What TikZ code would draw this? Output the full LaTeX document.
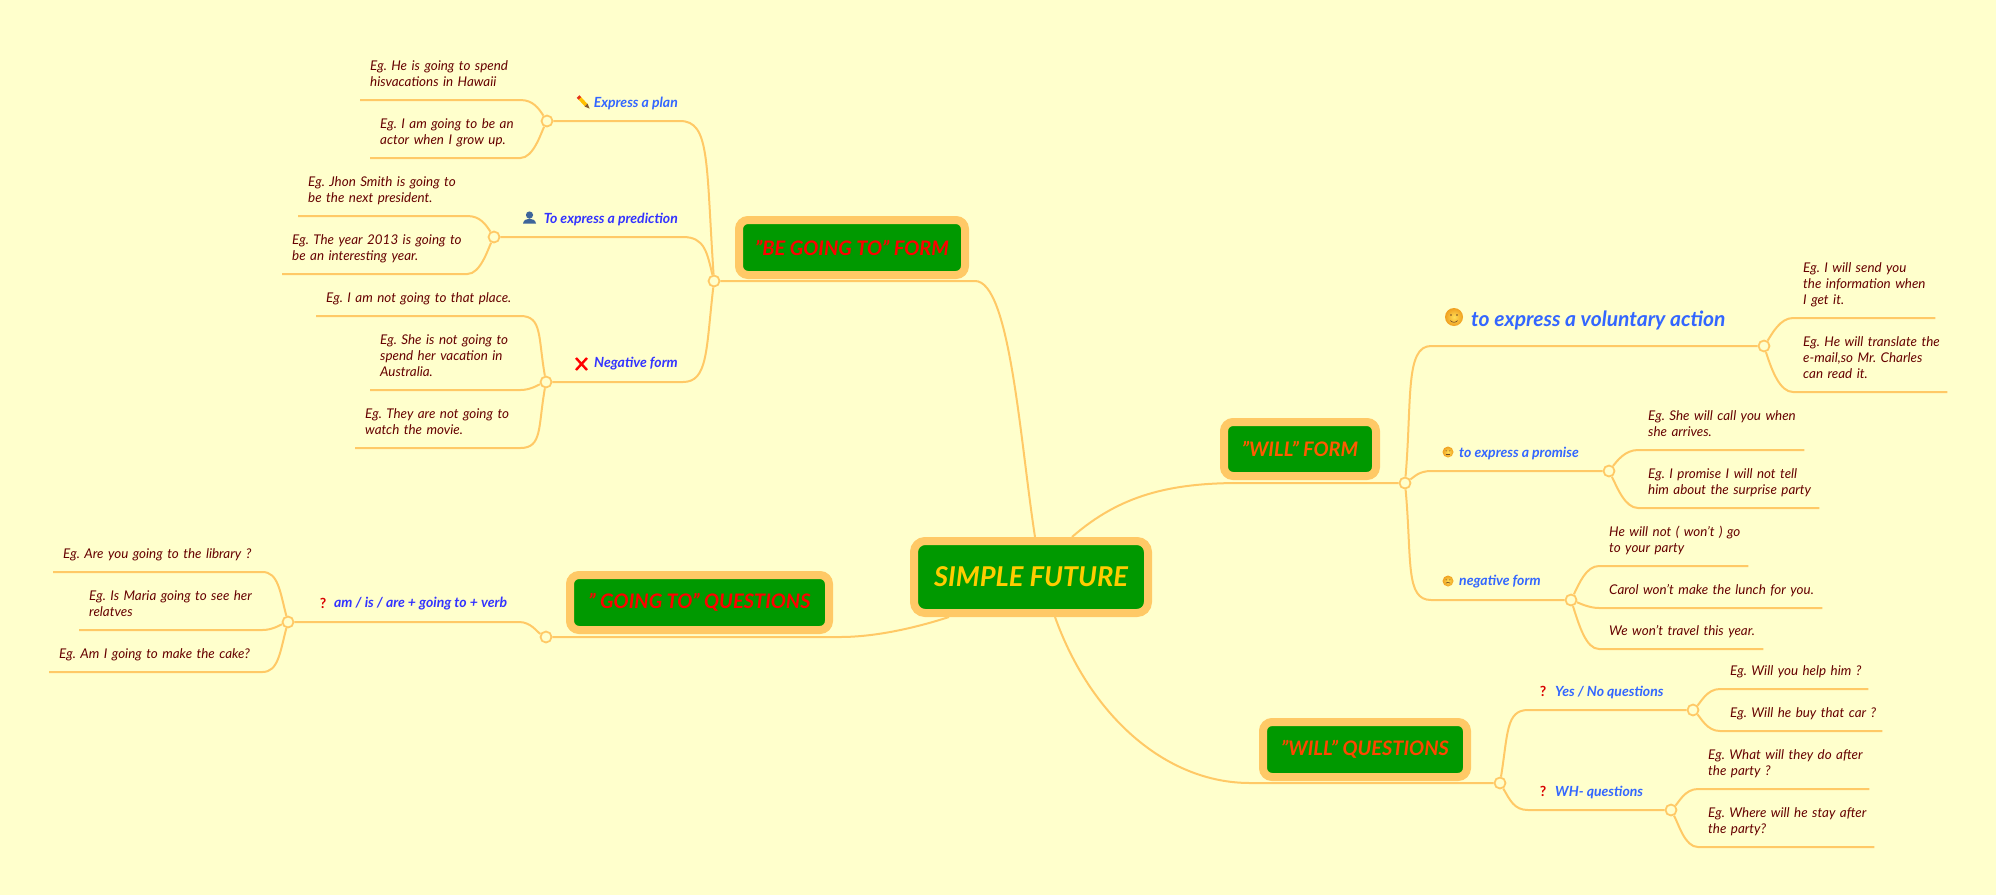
\documentclass[tikz,border=0pt]{standalone}
\usepackage{fontspec}
\setmainfont{Lato}
\usepackage{tikz}
\frenchspacing
\definecolor{paper}{HTML}{FFFFCC}
\definecolor{branch}{HTML}{FFC966}
\definecolor{boxgreen}{HTML}{009900}
\definecolor{leafred}{HTML}{660000}
\definecolor{subblue}{HTML}{3366FF}
\definecolor{deepblue}{HTML}{3333FF}
\definecolor{faceout}{HTML}{F0A020}
\definecolor{facein}{HTML}{FFDD55}
\tikzset{
  topic/.style={draw=branch,line width=8pt,fill=boxgreen,rounded corners=9pt,font=\fontsize{20}{24}\selectfont\bfseries\itshape},
  joint/.style={circle,draw=branch,line width=1.8pt,fill=paper,minimum size=11pt,inner sep=0pt},
  link/.style={draw=branch,line width=2pt},
  leaf/.style={anchor=south west,font=\fontsize{13.4}{16}\selectfont\itshape\frenchspacing,text=leafred,align=left,inner xsep=0pt,inner ysep=9pt,execute at begin node={\leftskip=10pt\rightskip=-60pt plus 1fil\relax\hyphenpenalty=10000\relax},execute at end node=\strut},
  sub/.style={anchor=west,inner sep=0pt,font=\fontsize{14}{16}\selectfont\bfseries\itshape,text=subblue},
  quest/.style={anchor=center,inner sep=0pt,font=\fontsize{14}{16}\selectfont\bfseries,text=red!85!black},
  pics/face/.style={code={
    \shade[inner color=facein,outer color=faceout] (0,0) circle (1);
    \fill[brown!60!black] (-.33,-.22) circle (.1);
    \fill[brown!60!black] (.33,-.22) circle (.1);
    \draw[brown!60!black,line width=.6pt] (-.4,.4) .. controls (-.15,{.4+#1}) and (.15,{.4+#1}) .. (.4,.4);
  }}
}

\begin{document}
\begin{tikzpicture}[x=1pt,y=-1pt]
\useasboundingbox (0,0) rectangle (1996,895);
\fill[paper] (0,0) rectangle (1996,895);

\node[topic,minimum width=234pt,minimum height=72pt,rounded corners=11pt,text={rgb,255:red,255;green,204;blue,0},font=\fontsize{27.3}{32}\selectfont\bfseries\itshape] (root) at (1031,577) {SIMPLE FUTURE};
\node[topic,minimum width=226pt,minimum height=55pt,text=red] (be) at (852,247.5) {"BE GOING TO" FORM};
\node[topic,minimum width=152pt,minimum height=54pt,text={rgb,255:red,255;green,90;blue,0}] (will) at (1300,449) {"WILL" FORM};
\node[topic,minimum width=204pt,minimum height=55pt,text={rgb,255:red,255;green,70;blue,0}] (willq) at (1365,749.5) {"WILL" QUESTIONS};
\node[topic,minimum width=259pt,minimum height=55pt,text=red] (goq) at (699.5,602.5) {" GOING TO" QUESTIONS};

\node[joint] (jBe) at (714,281) {};
\node[joint] (jPlan) at (547,121) {};
\node[joint] (jPred) at (494,237) {};
\node[joint] (jNeg) at (546,382) {};
\node[joint] (jGo) at (546,637) {};
\node[joint] (jVerb) at (288,622) {};
\node[joint] (jWill) at (1405,483) {};
\node[joint] (jVol) at (1764,346) {};
\node[joint] (jProm) at (1609,471) {};
\node[joint] (jNot) at (1571,600) {};
\node[joint] (jWq) at (1500,783) {};
\node[joint] (jYes) at (1693,710) {};
\node[joint] (jWh) at (1671,810) {};

\coordinate (bBe) at (975,281);
\coordinate (bPlan) at (680,121);
\coordinate (bPred) at (683,237);
\coordinate (bNeg) at (683,382);
\coordinate (bGo) at (840,637);
\coordinate (bVerb) at (519,622);
\coordinate (bWill) at (1240,483);
\coordinate (bVol) at (1431,346);
\coordinate (bProm) at (1431,471);
\coordinate (bNot) at (1431,600);
\coordinate (bWq) at (1250,783);
\coordinate (bYes) at (1528,710);
\coordinate (bWh) at (1528,810);

\draw[link] (jBe) -- (bBe) .. controls +(35,0) and +(-15,-97) .. ([xshift=4pt]root.north);
\draw[link] (jWill) -- (bWill) .. controls +(-70,0) and +(48,-42) .. ([xshift=41pt]root.north);
\draw[link] (jWq) -- (bWq) .. controls +(-85,0) and +(35,98) .. ([xshift=24pt]root.south);
\draw[link] (jGo) -- (bGo) .. controls +(35,0) and +(-34,11) .. ([xshift=-82pt]root.south);

\draw[link] (jBe) .. controls +(-8,-120) and +(30,0) .. (bPlan) -- (jPlan);
\draw[link] (jBe) .. controls +(-7,-28) and +(22,0) .. (bPred) -- (jPred);
\draw[link] (jBe) .. controls +(-8,69) and +(25,0) .. (bNeg) -- (jNeg);
\draw[link] (jGo) .. controls +(-9,-5) and +(12,0) .. (bVerb) -- (jVerb);
\draw[link] (jWill) .. controls +(7,-83) and +(-26,0) .. (bVol) -- (jVol);
\draw[link] (jWill) .. controls +(9,-6) and +(-12,0) .. (bProm) -- (jProm);
\draw[link] (jWill) .. controls +(7,77) and +(-26,0) .. (bNot) -- (jNot);
\draw[link] (jWq) .. controls +(8,-50) and +(-22,0) .. (bYes) -- (jYes);
\draw[link] (jWq) .. controls +(10,17) and +(-14,0) .. (bWh) -- (jWh);

\node[sub,anchor=east] (lPlan) at (678,103) {Express a plan};
\node[sub,anchor=east,text=deepblue] (lPred) at (678,219) {To express a prediction};
\node[sub,anchor=east,text=deepblue] (lNeg) at (678,364) {Negative form};
\node[sub,text=deepblue] (lVerb) at (334,604) {am / is / are + going to + verb};
\node[sub,font=\fontsize{21}{24}\selectfont\bfseries\itshape] (lVol) at (1471,320) {to express a voluntary action};
\node[sub] (lProm) at (1459,453) {to express a promise};
\node[sub] (lNot) at (1459,582) {negative form};
\node[sub] (lYes) at (1555,692) {Yes / No questions};
\node[sub] (lWh) at (1555,792) {WH- questions};

\node[quest] (qVerb) at (323,603) {?};
\node[quest] (qYes) at (1543,691) {?};
\node[quest] (qWh) at (1543,791) {?};

\pic[scale=9] at (1454,317) {face=.25};
\pic[scale=5.5] at (1448,452) {face=0};
\pic[scale=5.5] at (1448,581) {face=-.25};

\draw[red!60!brown,line width=3.6pt] (578,96.5) -- (580,98.5);
\draw[orange!50!yellow,line width=3.6pt] (580,98.5) -- (586,105);
\fill[brown!70!black] (584.5,106.5) -- (587.5,103.5) -- (589.5,108.5) -- cycle;
\fill[blue!30!gray!70!teal] (529.5,215) circle (3.6);
\fill[blue!30!gray!70!teal] (523,223.5) .. controls (524,217) and (535,217) .. (536,223.5) -- cycle;
\draw[red,line width=2.4pt] (576,358) -- (587,370);
\draw[red,line width=2.4pt] (587,358) -- (576,370);

\node[leaf,text width=160pt] (lHe) at (360,100) {Eg. He is going to spend\\hisvacations in Hawaii};
\node[leaf,text width=150pt] (lActor) at (370,158) {Eg. I am going to be an\\actor when I grow up.};
\node[leaf,text width=169pt] (lJhon) at (298,216) {Eg. Jhon Smith is going to\\be the next president.};
\node[leaf,text width=185pt] (lYear) at (282,274) {Eg. The year 2013 is going to\\be an interesting year.};
\node[leaf,text width=204pt] (lPlace) at (316,316) {Eg. I am not going to that place.};
\node[leaf,text width=150pt] (lAus) at (370,390) {Eg. She is not going to\\spend her vacation in\\Australia.};
\node[leaf,text width=165pt] (lMovie) at (355,448) {Eg. They are not going to\\watch the movie.};

\node[leaf,text width=209pt] (lLib) at (53,572) {Eg. Are you going to the library ?};
\node[leaf,text width=183pt] (lMaria) at (79,630) {Eg. Is Maria going to see her\\relatves};
\node[leaf,text width=213pt] (lCake) at (49,672) {Eg. Am I going to make the cake?};

\node[leaf,text width=142pt] (lSend) at (1793,318) {Eg. I will send you\\the information when\\I get it.};
\node[leaf,text width=154pt] (lTrans) at (1793,392) {Eg. He will translate the\\e-mail,so Mr. Charles\\can read it.};
\node[leaf,text width=166pt] (lCall) at (1638,450) {Eg. She will call you when\\she arrives.};
\node[leaf,text width=181pt] (lTell) at (1638,508) {Eg. I promise I will not tell\\him about the surprise party};
\node[leaf,text width=149pt] (lGo) at (1599,566) {He will not ( won't ) go\\to your party};
\node[leaf,text width=223pt] (lLunch) at (1599,608) {Carol won't make the lunch for you.};
\node[leaf,text width=164pt] (lTravel) at (1599,649) {We won't travel this year.};
\node[leaf,text width=148pt] (lHelp) at (1720,689) {Eg. Will you help him ?};
\node[leaf,text width=162pt] (lCar) at (1720,731) {Eg. Will he buy that car ?};
\node[leaf,text width=171pt] (lWhat) at (1698,789) {Eg. What will they do after\\the party ?};
\node[leaf,text width=176pt] (lWhere) at (1698,847) {Eg. Where will he stay after\\the party?};

\draw[link] (jPlan) .. controls +(-8,-12) and +(13,0) .. (lHe.south east) -- (lHe.south west);
\draw[link] (jPlan) .. controls +(-6,12) and +(13,0) .. (lActor.south east) -- (lActor.south west);
\draw[link] (jPred) .. controls +(-8,-12) and +(13,0) .. (lJhon.south east) -- (lJhon.south west);
\draw[link] (jPred) .. controls +(-6,12) and +(13,0) .. (lYear.south east) -- (lYear.south west);
\draw[link] (jNeg) .. controls +(-8,-45) and +(22,0) .. (lPlace.south east) -- (lPlace.south west);
\draw[link] (jNeg) .. controls +(-8,3) and +(10,0) .. (lAus.south east) -- (lAus.south west);
\draw[link] (jNeg) .. controls +(-8,45) and +(22,0) .. (lMovie.south east) -- (lMovie.south west);

\draw[link] (jVerb) .. controls +(-8,-30) and +(16,0) .. (lLib.south east) -- (lLib.south west);
\draw[link] (jVerb) .. controls +(-8,3) and +(10,0) .. (lMaria.south east) -- (lMaria.south west);
\draw[link] (jVerb) .. controls +(-8,30) and +(16,0) .. (lCake.south east) -- (lCake.south west);

\draw[link] (jVol) .. controls +(8,-12) and +(-13,0) .. (lSend.south west) -- (lSend.south east);
\draw[link] (jVol) .. controls +(8,25) and +(-13,0) .. (lTrans.south west) -- (lTrans.south east);
\draw[link] (jProm) .. controls +(8,-10) and +(-13,0) .. (lCall.south west) -- (lCall.south east);
\draw[link] (jProm) .. controls +(8,16) and +(-13,0) .. (lTell.south west) -- (lTell.south east);
\draw[link] (jNot) .. controls +(8,-16) and +(-13,0) .. (lGo.south west) -- (lGo.south east);
\draw[link] (jNot) .. controls +(8,3) and +(-10,0) .. (lLunch.south west) -- (lLunch.south east);
\draw[link] (jNot) .. controls +(8,25) and +(-13,0) .. (lTravel.south west) -- (lTravel.south east);
\draw[link] (jYes) .. controls +(8,-8) and +(-13,0) .. (lHelp.south west) -- (lHelp.south east);
\draw[link] (jYes) .. controls +(8,8) and +(-13,0) .. (lCar.south west) -- (lCar.south east);
\draw[link] (jWh) .. controls +(8,-8) and +(-13,0) .. (lWhat.south west) -- (lWhat.south east);
\draw[link] (jWh) .. controls +(8,15) and +(-13,0) .. (lWhere.south west) -- (lWhere.south east);

\end{tikzpicture}
\end{document}
